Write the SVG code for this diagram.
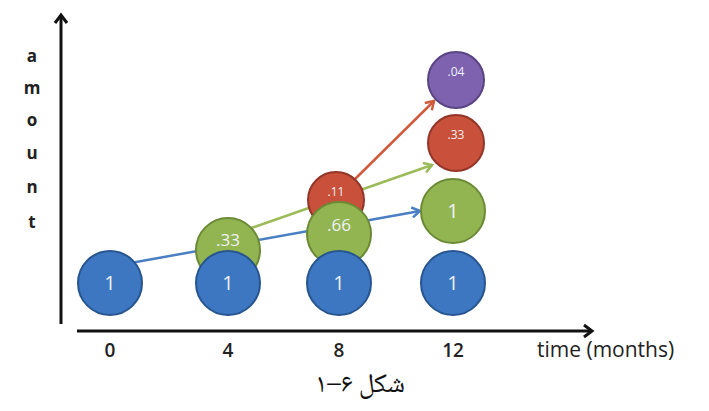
<svg xmlns="http://www.w3.org/2000/svg" width="709" height="411" viewBox="0 0 709 411">
<style>
.blue{fill:#3d76c1;stroke:#27558f;stroke-width:2}
.green{fill:#92b552;stroke:#6b8a35;stroke-width:2}
.red{fill:#c9503a;stroke:#93362a;stroke-width:2}
.purple{fill:#7e62b0;stroke:#5a4482;stroke-width:2}
.lbl{font-family:"Open Sans","Liberation Sans",sans-serif;fill:#eef2f8;text-anchor:middle}
.big{font-size:20px}
.mid{font-size:17px}
.sm{font-size:12px}
.axis{stroke:#111;stroke-width:3;fill:none}
.ax{font-family:"Open Sans","Liberation Sans",sans-serif;fill:#222;text-anchor:middle}
.ylet{font-size:17px;font-weight:700}
.tick{font-size:19px;font-weight:600}
</style>
<defs>
<marker id="ahAxis" markerUnits="userSpaceOnUse" markerWidth="16" markerHeight="16" refX="11" refY="7" orient="auto" overflow="visible">
<path d="M3,1 L11,7 L3,13" fill="none" stroke="#111" stroke-width="3"/>
</marker>
<marker id="ahBlue" markerUnits="userSpaceOnUse" markerWidth="14" markerHeight="14" refX="10" refY="6" orient="auto" overflow="visible">
<path d="M2,1 L10,6 L2,11" fill="none" stroke="#4a7fc4" stroke-width="2.5"/>
</marker>
<marker id="ahGreen" markerUnits="userSpaceOnUse" markerWidth="14" markerHeight="14" refX="10" refY="6" orient="auto" overflow="visible">
<path d="M2,1 L10,6 L2,11" fill="none" stroke="#9bbb59" stroke-width="2.5"/>
</marker>
<marker id="ahRed" markerUnits="userSpaceOnUse" markerWidth="14" markerHeight="14" refX="10" refY="6" orient="auto" overflow="visible">
<path d="M2,1 L10,6 L2,11" fill="none" stroke="#cf5a3c" stroke-width="2.5"/>
</marker>
</defs>
<rect width="709" height="411" fill="#ffffff"/>

<g id="axes">
<line class="axis" x1="61" y1="324" x2="61" y2="15" marker-end="url(#ahAxis)"/>
<line class="axis" x1="77" y1="331" x2="592" y2="331" marker-end="url(#ahAxis)"/>
<text class="ax ylet" x="32" y="62">a</text>
<text class="ax ylet" x="32" y="94">m</text>
<text class="ax ylet" x="32" y="126">o</text>
<text class="ax ylet" x="32" y="159">u</text>
<text class="ax ylet" x="32" y="193">n</text>
<text class="ax ylet" x="32" y="228">t</text>
<text class="ax tick" x="110" y="357">0</text>
<text class="ax tick" x="228" y="357">4</text>
<text class="ax tick" x="339" y="357">8</text>
<text class="ax tick" x="453" y="357">12</text>
<text x="537" y="357" font-family="Open Sans, Liberation Sans, sans-serif" font-size="21" fill="#222">time (months)</text>
</g>

<g id="connectors">
<line x1="125" y1="264" x2="420" y2="211" stroke="#4a7fc4" stroke-width="2.5" marker-end="url(#ahBlue)"/>
<line x1="240" y1="232" x2="432" y2="165" stroke="#9bbb59" stroke-width="2.5" marker-end="url(#ahGreen)"/>
<line x1="350" y1="184" x2="434" y2="101" stroke="#cf5a3c" stroke-width="2.5" marker-end="url(#ahRed)"/>
</g>

<g id="node-red11"><circle class="red" cx="336" cy="200" r="28"/><text class="lbl sm" x="336" y="196">.11</text></g>
<g id="node-green66"><circle class="green" cx="339" cy="234" r="32"/><text class="lbl mid" x="339" y="231">.66</text></g>
<g id="node-green33"><circle class="green" cx="228" cy="250" r="32"/><text class="lbl mid" x="228" y="246">.33</text></g>
<g id="node-blue0"><circle class="blue" cx="110" cy="283" r="32"/><text class="lbl big" x="110" y="290">1</text></g>
<g id="node-blue4"><circle class="blue" cx="228" cy="283" r="32"/><text class="lbl big" x="228" y="290">1</text></g>
<g id="node-blue8"><circle class="blue" cx="339" cy="283" r="32"/><text class="lbl big" x="339" y="290">1</text></g>
<g id="node-blue12"><circle class="blue" cx="453" cy="283" r="32"/><text class="lbl big" x="453" y="290">1</text></g>
<g id="node-green1"><circle class="green" cx="453" cy="211" r="32"/><text class="lbl big" x="453" y="218">1</text></g>
<g id="node-red33"><circle class="red" cx="456" cy="143" r="28"/><text class="lbl sm" x="456" y="139">.33</text></g>
<g id="node-purple04"><circle class="purple" cx="456" cy="80" r="28"/><text class="lbl sm" x="456" y="76">.04</text></g>

<text x="360" y="392" font-family="Noto Naskh Arabic, DejaVu Sans, serif" font-size="27" fill="#111" text-anchor="middle">شکل ۶–۱</text>
</svg>
